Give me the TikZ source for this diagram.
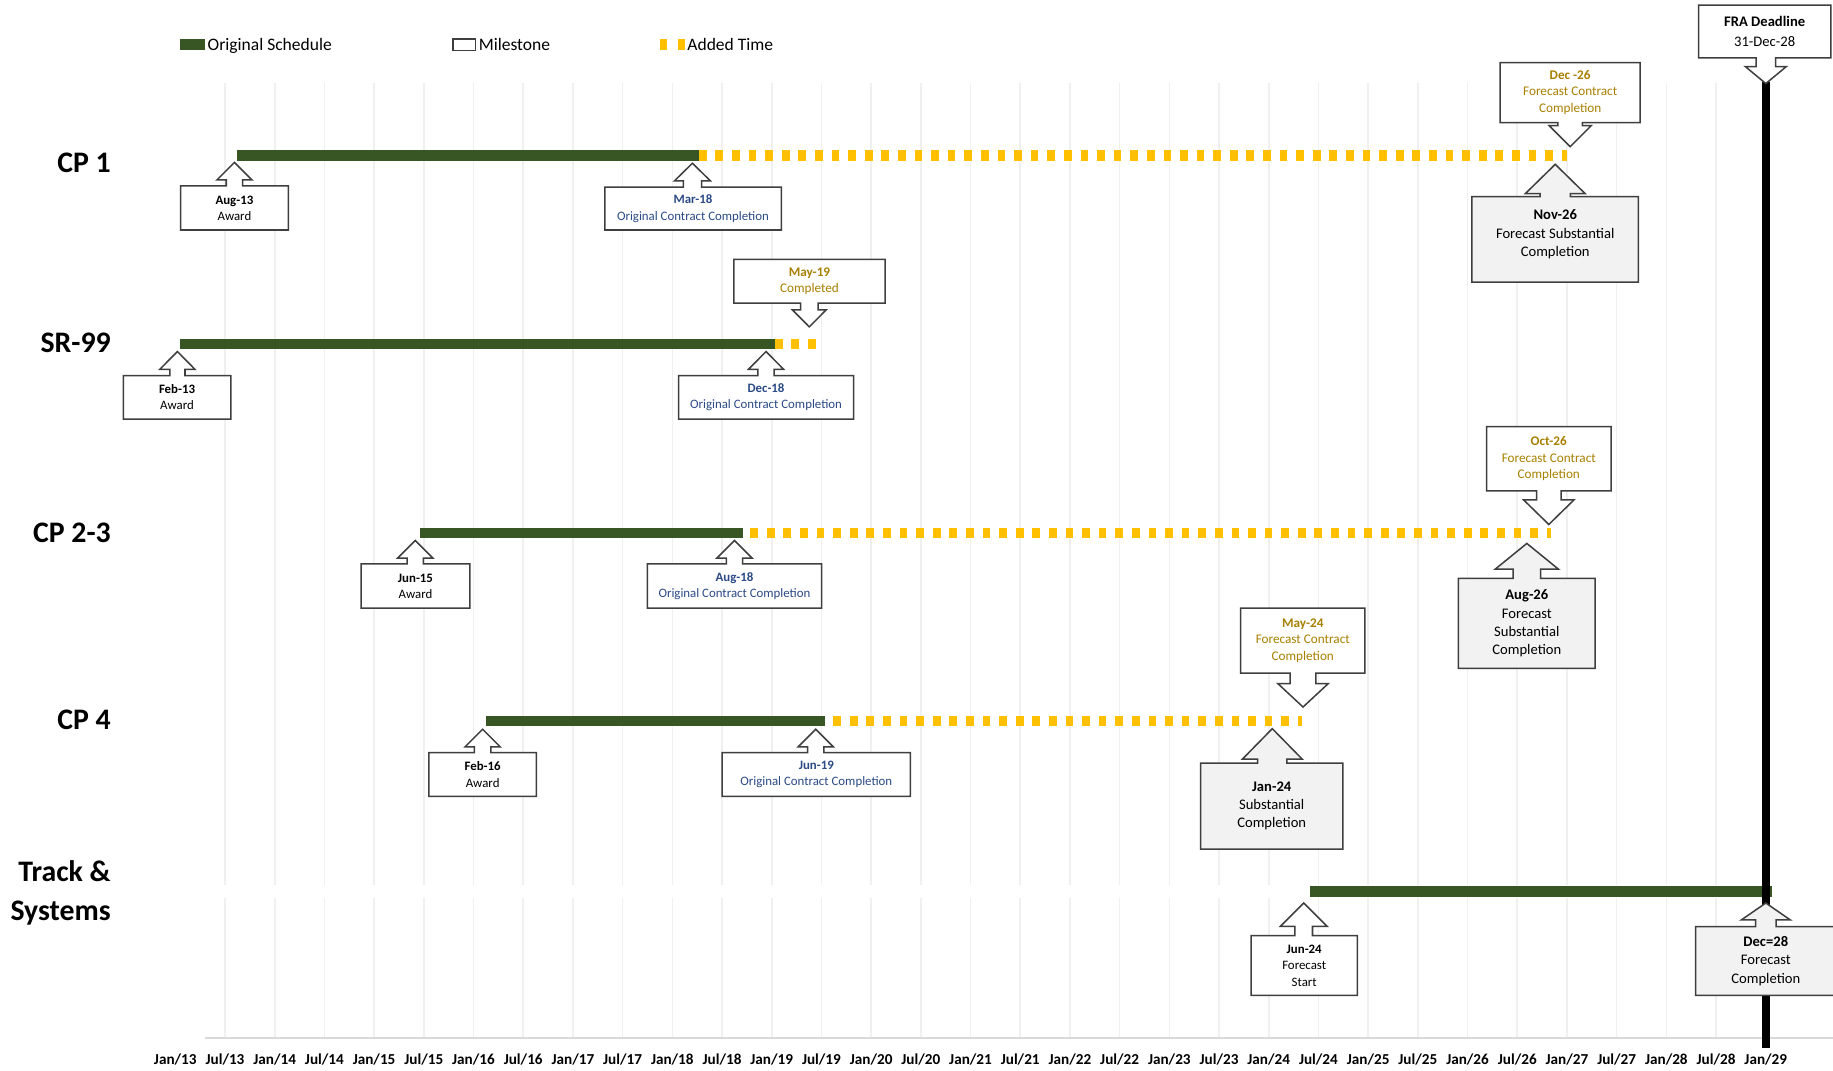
\documentclass[tikz,border=0pt]{standalone}
\usepackage{fontspec}
\setmainfont{Carlito}
\definecolor{barGreen}{HTML}{375623}
\definecolor{addYellow}{HTML}{FFC000}
\definecolor{goldTxt}{HTML}{A88000}
\definecolor{navyTxt}{HTML}{2B4A86}
\definecolor{boxGray}{HTML}{F2F2F2}
\definecolor{gridGray}{HTML}{F0F0F0}
\definecolor{axisGray}{HTML}{D9D9D9}
\definecolor{edgeGray}{HTML}{3F3F3F}
\tikzset{
  calloutline/.style={draw=edgeGray, line width=1.3pt, line join=miter},
  origbar/.style={fill=barGreen},
  addedbar/.style={draw=addYellow, line width=9pt, dash pattern=on 6.6pt off 7.6pt},
  gridline/.style={draw=gridGray, line width=1.4pt},
  catlabel/.style={anchor=base east, font=\fontsize{25.5}{28}\selectfont\bfseries, inner sep=0pt},
  axlabel/.style={anchor=base, font=\fontsize{13}{15}\selectfont\bfseries, inner sep=0pt},
  legtext/.style={anchor=base west, font=\fontsize{15}{18}\selectfont, inner sep=0pt},
  smalltxt/.style={align=center, font=\fontsize{11}{14}\selectfont, inner sep=0pt},
  goldtxt/.style={align=center, font=\fontsize{11.3}{14}\selectfont, text=goldTxt, inner sep=0pt},
  bigtxt/.style={align=center, font=\fontsize{12.5}{15.6}\selectfont, inner sep=0pt},
}
\def\parsearrowdims#1/#2/#3\relax{\def\cSW{#1}\def\cHW{#2}\def\cHH{#3}}
% #1 fill, #2 x1, #3 ytop, #4 x2, #5 ybottom, #6 tip x, #7 tip y, #8 shafthalf/headhalf/headheight
\newcommand\CallUp[8]{%
  \parsearrowdims#8\relax
  \draw[calloutline, fill=#1] (#2,#3) -- ({#6-\cSW},#3) -- ({#6-\cSW},{#7+\cHH}) -- ({#6-\cHW},{#7+\cHH})
    -- (#6,#7) -- ({#6+\cHW},{#7+\cHH}) -- ({#6+\cSW},{#7+\cHH}) -- ({#6+\cSW},#3) -- (#4,#3)
    -- (#4,#5) -- (#2,#5) -- cycle;}
\newcommand\CallDown[8]{%
  \parsearrowdims#8\relax
  \draw[calloutline, fill=#1] (#2,#3) -- (#4,#3) -- (#4,#5) -- ({#6+\cSW},#5) -- ({#6+\cSW},{#7-\cHH})
    -- ({#6+\cHW},{#7-\cHH}) -- (#6,#7) -- ({#6-\cHW},{#7-\cHH}) -- ({#6-\cSW},{#7-\cHH})
    -- ({#6-\cSW},#5) -- (#2,#5) -- cycle;}
\begin{document}
\begin{tikzpicture}[x=1pt,y=-1pt]
\path[use as bounding box] (0,0) rectangle (1568.5,915.6);
\clip (0,0) rectangle (1568.5,915.6);
\fill[white] (0,0) rectangle (1568.5,915.6);
% grid
\foreach \k in {1,...,32} {
  \draw[gridline] ({150+42.53*\k},71) -- ({150+42.53*\k},888);
}
\fill[white] (175,757.5) rectangle (1568.5,768.5);
% axis
\coordinate (ax-l) at (175,888);
\coordinate (ax-r) at (1568.5,888);
\draw[axisGray, line width=2pt] (ax-l) -- (ax-r);
\foreach \yr [count=\i from 0] in {13,...,28} {
  \node[axlabel] (ax-jan\yr) at ({150+85.06*\i},910.5) {Jan/\yr};
  \node[axlabel] (ax-jul\yr) at ({150+85.06*\i+42.53},910.5) {Jul/\yr};
}
\node[axlabel] (ax-jan29) at ({150+85.06*16},910.5) {Jan/29};
% bars
\fill[origbar] (203,128.5) rectangle (598,137.5);
\draw[addedbar] (598,133) -- (1341,133);
\fill[origbar] (154,290) rectangle (663,299);
\draw[addedbar] (663,294.5) -- (698,294.5);
\fill[origbar] (359,451.5) rectangle (636,460.5);
\draw[addedbar] (642,456) -- (1327,456);
\fill[origbar] (416,612.5) rectangle (706,621.5);
\draw[addedbar] (713,617) -- (1114,617);
\fill[origbar] (1121,758.5) rectangle (1516,767.5);
% deadline line
\coordinate (dl-top) at (1511,70);
\coordinate (dl-bot) at (1511,896.5);
\draw[black, line width=7pt] (dl-top) -- (dl-bot);
% callouts
\CallUp{white}{154.6}{159.1}{246.7}{196.8}{200.6}{139}{7/15/15}
\node[smalltxt] (c-aug13) at (200.6,178) {\textbf{Aug-13}\\Award};
\CallUp{white}{517.5}{160.2}{668.7}{196.8}{592.5}{139.7}{7.8/15.3/15}
\node[smalltxt,text=navyTxt] (c-mar18) at (593,178.5) {\textbf{Mar-18}\\Original Contract Completion};
\CallDown{white}{1283.7}{53.6}{1403.5}{104.9}{1343.6}{125.5}{10.5/18/18}
\node[goldtxt] (c-dec26) at (1343.6,79) {\textbf{Dec -26}\\Forecast Contract\\Completion};
\CallUp{boxGray}{1259.5}{168.2}{1402}{241.5}{1330.8}{140.6}{13/25.5/25}
\node[bigtxt] (c-nov26) at (1330.8,200.5) {\textbf{Nov-26}\\Forecast Substantial\\Completion};
\CallDown{white}{628}{221.9}{757.4}{259.3}{692.5}{279.7}{7.5/14.5/14.6}
\node[goldtxt] (c-may19) at (692.7,240.5) {\textbf{May-19}\\Completed};
\CallUp{white}{105.5}{321.4}{197.6}{358.6}{151.8}{300.8}{6.5/15/15.2}
\node[smalltxt] (c-feb13) at (151.5,340) {\textbf{Feb-13}\\Award};
\CallUp{white}{580.6}{321.4}{730.5}{358.6}{655.5}{300.8}{7/15/15.2}
\node[smalltxt,text=navyTxt] (c-dec18) at (655.5,340) {\textbf{Dec-18}\\Original Contract Completion};
\CallDown{white}{1272}{365}{1378.7}{420}{1325.3}{448.8}{10.5/21.5/21}
\node[goldtxt] (c-oct26) at (1325.3,392.5) {\textbf{Oct-26}\\Forecast Contract\\Completion};
\CallUp{white}{309}{482.5}{402}{520.4}{355.3}{462.5}{7/15/15}
\node[smalltxt] (c-jun15) at (355.5,501.5) {\textbf{Jun-15}\\Award};
\CallUp{white}{554}{482.5}{703}{520.4}{628.5}{462.5}{7/15/15}
\node[smalltxt,text=navyTxt] (c-aug18) at (628.5,501.5) {\textbf{Aug-18}\\Original Contract Completion};
\CallUp{boxGray}{1248}{495}{1365}{572}{1306.5}{465}{11.7/27/22}
\node[bigtxt] (c-aug26) at (1306.5,533.5) {\textbf{Aug-26}\\Forecast\\Substantial\\Completion};
\CallDown{white}{1061.6}{520.4}{1168}{576}{1115}{605}{11/21.5/20}
\node[goldtxt] (c-may24) at (1114.8,548.2) {\textbf{May-24}\\Forecast Contract\\Completion};
\CallUp{white}{367}{644}{459}{681.5}{413}{624}{7/15/15}
\node[smalltxt] (c-feb16) at (413,662.8) {\textbf{Feb-16}\\Award};
\CallUp{white}{618}{644}{779}{681.5}{698}{624}{7/15/15}
\node[smalltxt,text=navyTxt] (c-jun19) at (698.5,662.8) {\textbf{Jun-19}\\Original Contract Completion};
\CallUp{boxGray}{1027.4}{653}{1149}{726.5}{1088.7}{623.5}{12.5/25.5/26}
\node[bigtxt] (c-jan24) at (1088.2,689.7) {\textbf{Jan-24}\\Substantial\\Completion};
\CallUp{white}{1070.6}{800.7}{1161.4}{851.8}{1115.6}{772.7}{7.5/20/20}
\node[smalltxt] (c-jun24) at (1116,826.3) {\textbf{Jun-24}\\Forecast\\Start};
\CallUp{boxGray}{1451}{793}{1575}{851.8}{1511}{772.7}{8.75/21/14.5}
\node[bigtxt] (c-dec28) at (1511,822.4) {\textbf{Dec=28}\\Forecast\\Completion};
\CallDown{white}{1453.5}{4.4}{1566.7}{49.6}{1511}{71.5}{8.3/17.5/14.5}
\node[bigtxt, font=\fontsize{12.5}{17}\selectfont] (c-fra) at (1510,27) {\textbf{FRA Deadline}\\31-Dec-28};
% legend
\fill[barGreen] (154,33) rectangle (175,43);
\draw[edgeGray, line width=1.2pt, fill=white] (387.5,33.5) rectangle (407,43);
\fill[addYellow] (565,33) rectangle (571,43);
\fill[addYellow] (580,33) rectangle (586,43);
\node[legtext] (leg-orig) at (177.5,43.5) {Original Schedule};
\node[legtext] (leg-mile) at (409.5,43.5) {Milestone};
\node[legtext] (leg-add) at (588,43.5) {Added Time};
% category labels
\node[catlabel] (lab-cp1) at (95,148) {CP 1};
\node[catlabel] (lab-sr99) at (95,302) {SR-99};
\node[catlabel] (lab-cp23) at (95,464) {CP 2-3};
\node[catlabel] (lab-cp4) at (95,624.5) {CP 4};
\node[catlabel] (lab-ts1) at (95,754.5) {Track \&};
\node[catlabel] (lab-ts2) at (95,788) {Systems};
\end{tikzpicture}
\end{document}
